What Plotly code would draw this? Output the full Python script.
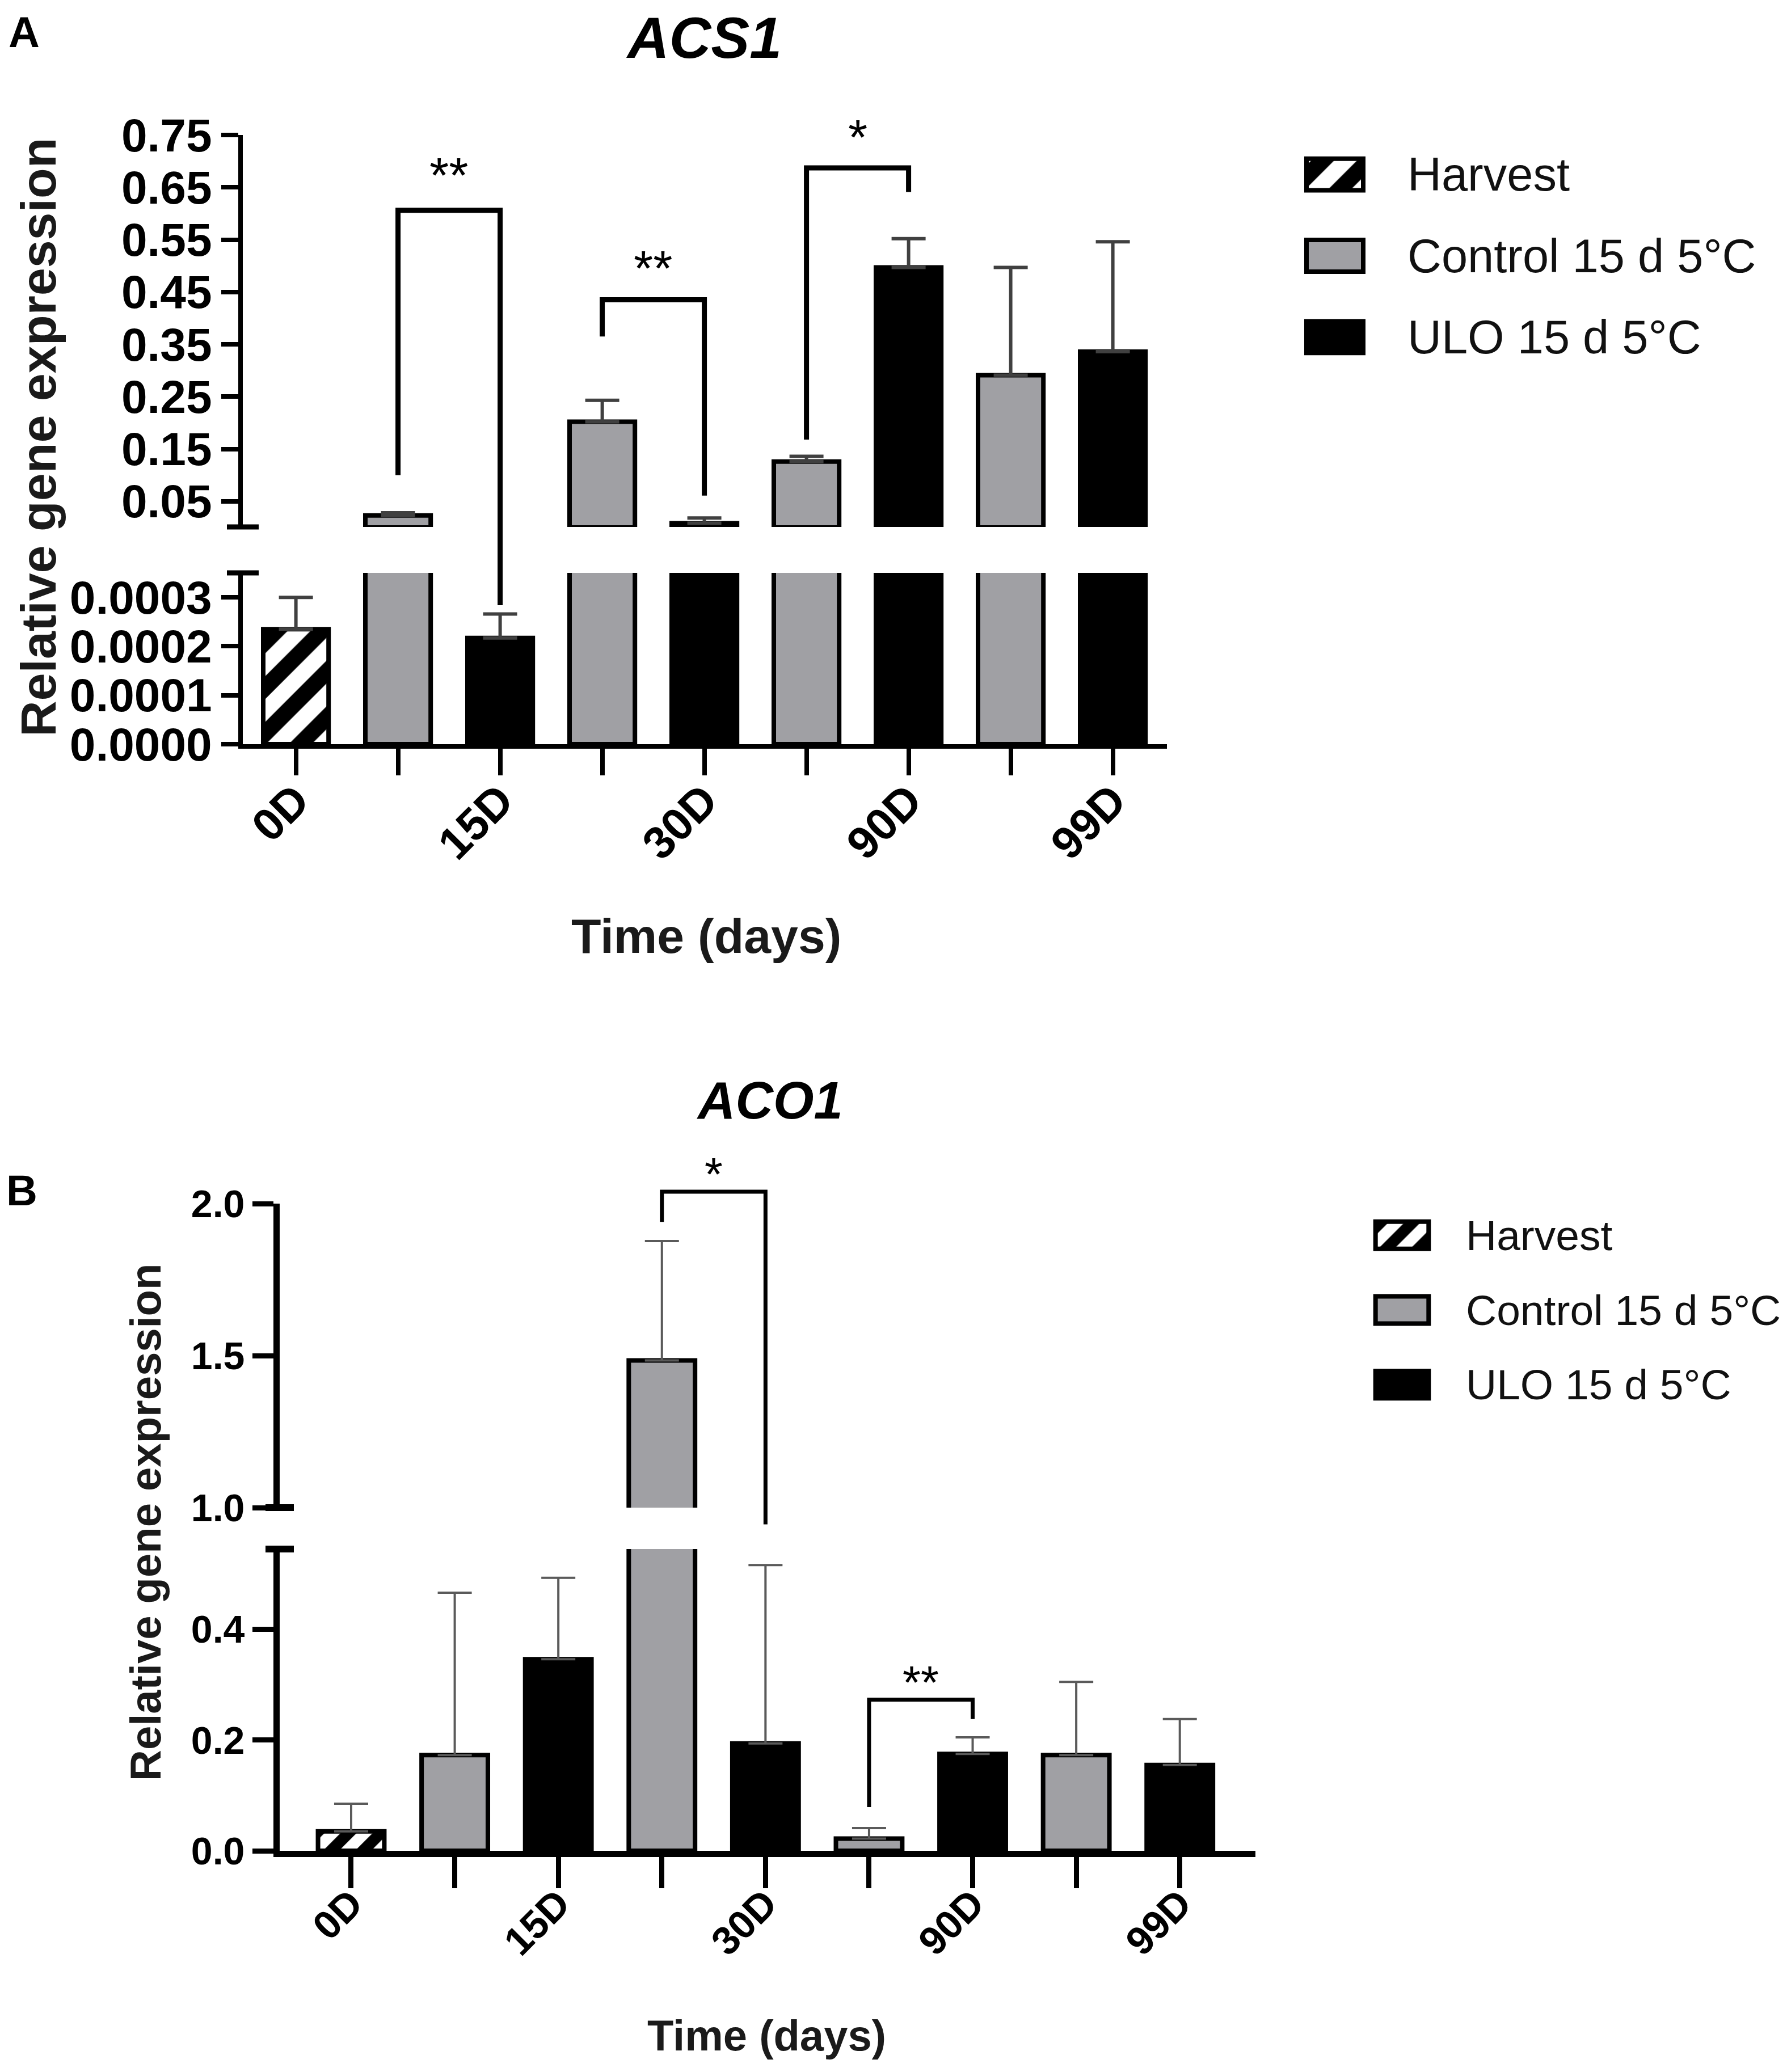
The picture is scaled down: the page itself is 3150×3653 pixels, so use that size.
import plotly.graph_objects as go

W, H = 3150, 3653
FONT = 'Liberation Sans, Arial, Helvetica, sans-serif'
GREY = '#a0a0a4'

# ---- data ----
day_labels = ['0D', '15D', '30D', '90D', '99D']
series_names = ['Harvest', 'Control 15 d 5°C', 'ULO 15 d 5°C']

# ACS1 (panel A)
acs1_harvest = [0.000235]
acs1_harvest_sd = [0.000065]
acs1_control = [0.023, 0.202, 0.126, 0.291]
acs1_control_sd = [0.005, 0.041, 0.010, 0.206]
acs1_ulo = [0.000217, 0.008, 0.497, 0.336]
acs1_ulo_sd = [0.000049, 0.010, 0.055, 0.210]
acs1_hi_ticks = [0.05, 0.15, 0.25, 0.35, 0.45, 0.55, 0.65, 0.75]
acs1_lo_ticks = [0.0, 0.0001, 0.0002, 0.0003]

# ACO1 (panel B)
aco1_harvest = [0.035]
aco1_harvest_sd = [0.050]
aco1_control = [0.173, 1.484, 0.022, 0.173]
aco1_control_sd = [0.293, 0.393, 0.019, 0.132]
aco1_ulo = [0.346, 0.194, 0.175, 0.155]
aco1_ulo_sd = [0.147, 0.322, 0.030, 0.083]
aco1_hi_ticks = [1.0, 1.5, 2.0]
aco1_lo_ticks = [0.0, 0.2, 0.4]

# significance brackets: (left bar, right bar), top, left end, right end, label, label height
acs1_sig = [
    ((1, 2), ('hi', 0.606), ('hi', 0.10), ('lo', 0.000284), '**', ('hi', 0.679)),
    ((3, 4), ('hi', 0.435), ('hi', 0.365), ('hi', 0.061), '**', ('hi', 0.502)),
    ((5, 6), ('hi', 0.687), ('hi', 0.168), ('hi', 0.641), '*', ('hi', 0.752)),
]
aco1_sig = [
    ((3, 4), ('hi', 2.039), ('hi', 1.94), ('hi', 0.945), '*', ('hi', 2.108)),
    ((5, 6), ('lo', 0.273), ('lo', 0.079), ('lo', 0.238), '**', ('lo', 0.31)),
]


def px_x(px):
    return px / W


def px_y(px):
    return 1 - px / H


panels = [
    dict(name='A', title='ACS1', harvest=acs1_harvest, harvest_sd=acs1_harvest_sd,
         control=acs1_control, control_sd=acs1_control_sd,
         ulo=acs1_ulo, ulo_sd=acs1_ulo_sd,
         hi_ticks=acs1_hi_ticks, lo_ticks=acs1_lo_ticks, hi_fmt='{:.2f}', lo_fmt='{:.4f}',
         sig=acs1_sig,
         ax=('x', 'y', 'x2', 'y2', 'x5', 'y5'),
         xdom=(420, 2049), xrange=(-0.52, 8.53),
         lo_px=(1002, 1304), lo_range=(0.0, 0.00035),
         hi_px=(230, 921), hi_range=(0.001, 0.75),
         tick_size=82, xtick_size=80, ytitle_size=88, xtitle_size=86,
         lw=8, tw=8, bar_lw=8, br_lw=9, err_t=6, err_w=30, err_c='#404040',
         yticklen=30, xticklen=47, hatch=57, star_size=88,
         brk_w=28, brk_t=9, lab_standoff=-35, lab_shift=0,
         title_xy=(1232, 0), title_size=102, title_anchor='top',
         label_xy=(34, 48), ytitle_xy=(60, 763), xtitle_xy=(1237, 1642),
         leg_x=(2290, 2400), leg_y=(228, 658), leg_text_x=2471, leg_size=83, leg_h=0.39),
    dict(name='B', title='ACO1', harvest=aco1_harvest, harvest_sd=aco1_harvest_sd,
         control=aco1_control, control_sd=aco1_control_sd,
         ulo=aco1_ulo, ulo_sd=aco1_ulo_sd,
         hi_ticks=aco1_hi_ticks, lo_ticks=aco1_lo_ticks, hi_fmt='{:.1f}', lo_fmt='{:.1f}',
         sig=aco1_sig,
         ax=('x3', 'y3', 'x4', 'y4', 'x6', 'y6'),
         xdom=(485, 2205), xrange=(-0.69, 8.73),
         lo_px=(2723, 3255), lo_range=(0.0, 0.545),
         hi_px=(2114, 2650), hi_range=(1.0, 2.0),
         tick_size=68, xtick_size=70, ytitle_size=76, xtitle_size=76,
         lw=11, tw=9, bar_lw=8, br_lw=7, err_t=4, err_w=30, err_c='#5a5a5a',
         yticklen=37, xticklen=55, hatch=40, star_size=82,
         brk_w=25, brk_t=12, lab_standoff=-42, lab_shift=0,
         title_xy=(1349, 1932), title_size=92, title_anchor='middle',
         label_xy=(30, 2090), ytitle_xy=(248, 2676), xtitle_xy=(1343, 3580),
         leg_x=(2412, 2515), leg_y=(2104, 2499), leg_text_x=2574, leg_size=75, leg_h=0.365),
]

fig = go.Figure()
layout = dict(width=W, height=H,
              margin=dict(l=0, r=0, t=0, b=0, pad=0, autoexpand=False),
              paper_bgcolor='white', plot_bgcolor='white', barmode='overlay',
              showlegend=False, shapes=[], annotations=[])


def axis_key(a):
    return a.replace('x', 'xaxis').replace('y', 'yaxis')


def seg_y(p, seg, v):
    top, bot = p['hi_px'] if seg == 'hi' else p['lo_px']
    lo, hi = p['hi_range'] if seg == 'hi' else p['lo_range']
    return px_y(bot - (v - lo) / (hi - lo) * (bot - top))


for p in panels:
    xl, yl, xh, yh, xg, yg = p['ax']
    n_pairs = len(p['control'])
    harvest_x = [0]
    control_x = [2 * i + 1 for i in range(n_pairs)]
    ulo_x = [2 * i + 2 for i in range(n_pairs)]
    cut = p['lo_range'][1]

    styles = [
        dict(color='white', line=dict(color='black', width=p['bar_lw']),
             pattern=dict(shape='/', fgcolor='black', bgcolor='white', fgopacity=1,
                          size=p['hatch'], solidity=0.5)),
        dict(color=GREY, line=dict(color='black', width=p['bar_lw'])),
        dict(color='black', line=dict(color='black', width=p['bar_lw'])),
    ]
    groups = [(harvest_x, p['harvest'], p['harvest_sd']),
              (control_x, p['control'], p['control_sd']),
              (ulo_x, p['ulo'], p['ulo_sd'])]

    for seg, xa, ya in [('lo', xl, yl), ('hi', xh, yh)]:
        for (gx, gv, gsd), st in zip(groups, styles):
            if seg == 'hi':
                vals = [v if v > cut else None for v in gv]
            else:
                vals = list(gv)
            fig.add_trace(go.Bar(
                x=gx, y=vals, width=0.64, marker=st, xaxis=xa, yaxis=ya,
                error_y=dict(type='data', symmetric=False, array=gsd,
                             arrayminus=[0] * len(gsd), color=p['err_c'],
                             thickness=p['err_t'], width=p['err_w']),
                hoverinfo='skip'))

    tickvals = list(range(2 * n_pairs + 1))
    ticktext = [''] * len(tickvals)
    for i, lab in enumerate(day_labels):
        ticktext[2 * i] = lab

    common_y = dict(showgrid=False, zeroline=False, showline=True, linecolor='black',
                    linewidth=p['lw'], ticks='outside', ticklen=p['yticklen'],
                    tickwidth=p['tw'], tickcolor='black', fixedrange=True, automargin=False,
                    tickfont=dict(family=FONT, size=p['tick_size'], color='black',
                                  weight='bold'))

    xdom = [px_x(p['xdom'][0]), px_x(p['xdom'][1])]
    layout[axis_key(xl)] = dict(
        domain=xdom, range=list(p['xrange']),
        anchor=yl, tickmode='array', tickvals=tickvals, ticktext=ticktext,
        tickangle=-45, showgrid=False, zeroline=False, showline=True,
        linecolor='black', linewidth=p['lw'], ticks='outside', ticklen=p['xticklen'],
        tickwidth=p['tw'], tickcolor='black', fixedrange=True, automargin=False,
        ticklabelstandoff=p['lab_standoff'], ticklabelshift=p['lab_shift'],
        tickfont=dict(family=FONT, size=p['xtick_size'], color='black', weight='bold'))
    layout[axis_key(xh)] = dict(matches=xl, anchor=yh, visible=False, domain=xdom,
                                range=list(p['xrange']), automargin=False)

    layout[axis_key(yl)] = dict(
        common_y, anchor=xl, domain=[px_y(p['lo_px'][1]), px_y(p['lo_px'][0])],
        range=list(p['lo_range']), tickmode='array', tickvals=p['lo_ticks'],
        ticktext=[p['lo_fmt'].format(v) for v in p['lo_ticks']])
    layout[axis_key(yh)] = dict(
        common_y, anchor=xh, domain=[px_y(p['hi_px'][1]), px_y(p['hi_px'][0])],
        range=list(p['hi_range']), tickmode='array', tickvals=p['hi_ticks'],
        ticktext=[p['hi_fmt'].format(v) for v in p['hi_ticks']])

    # axis break marks crossing the y axis line
    ax_px = p['xdom'][0]
    for edge in (p['hi_px'][1], p['lo_px'][0]):
        layout['shapes'].append(dict(
            type='line', xref='paper', yref='paper',
            x0=px_x(ax_px - p['brk_w']), x1=px_x(ax_px + p['brk_w']),
            y0=px_y(edge), y1=px_y(edge), line=dict(color='black', width=p['brk_t'])))

    # significance brackets
    for (i0, i1), top, left, right, label, lab_y in p['sig']:
        yt = seg_y(p, *top)
        y0 = seg_y(p, *left)
        y1 = seg_y(p, *right)
        layout['shapes'].append(dict(
            type='path', xref=xl, yref='paper', layer='above',
            path=f'M {i0},{y0} L {i0},{yt} L {i1},{yt} L {i1},{y1}',
            line=dict(color='black', width=p['br_lw'])))
        layout['annotations'].append(dict(
            x=(i0 + i1) / 2, y=seg_y(p, *lab_y), xref=xl, yref='paper',
            text=label, showarrow=False, yanchor='middle', yshift=-p['star_size'] * 0.06,
            font=dict(family=FONT, size=p['star_size'], color='black')))

    # legend swatches drawn as bars on a small axis
    for i, st in enumerate(styles):
        fig.add_trace(go.Bar(
            x=[1], y=[i], base=0, orientation='h', width=p['leg_h'], marker=st,
            xaxis=xg, yaxis=yg, hoverinfo='skip'))
        layout['annotations'].append(dict(
            x=px_x(p['leg_text_x']), y=i, xref='paper', yref=yg, text=series_names[i],
            showarrow=False, xanchor='left', yanchor='middle',
            font=dict(family=FONT, size=p['leg_size'], color='#111111')))
    layout[axis_key(xg)] = dict(domain=[px_x(p['leg_x'][0]), px_x(p['leg_x'][1])],
                                range=[-0.05, 1.05], anchor=yg, visible=False,
                                fixedrange=True, automargin=False)
    layout[axis_key(yg)] = dict(domain=[px_y(p['leg_y'][1]), px_y(p['leg_y'][0])],
                                range=[2.5, -0.5], anchor=xg, visible=False,
                                fixedrange=True, automargin=False)

    # titles and labels
    tx, ty = p['title_xy']
    layout['annotations'].append(dict(
        x=px_x(tx), y=px_y(ty), xref='paper', yref='paper', showarrow=False,
        text=f"<b><i>{p['title']}</i></b>", xanchor='center', yanchor=p['title_anchor'],
        font=dict(family=FONT, size=p['title_size'], color='black')))
    lx, ly = p['label_xy']
    layout['annotations'].append(dict(
        x=px_x(lx), y=px_y(ly), xref='paper', yref='paper', showarrow=False,
        text=f"<b>{p['name']}</b>", xanchor='center', yanchor='middle',
        font=dict(family=FONT, size=76, color='black')))
    yx, yy = p['ytitle_xy']
    layout['annotations'].append(dict(
        x=px_x(yx), y=px_y(yy), xref='paper', yref='paper', showarrow=False,
        text='<b>Relative gene expression</b>', textangle=-90,
        xanchor='center', yanchor='middle',
        font=dict(family=FONT, size=p['ytitle_size'], color='#1a1a1a')))
    xx, xy = p['xtitle_xy']
    layout['annotations'].append(dict(
        x=px_x(xx), y=px_y(xy), xref='paper', yref='paper', showarrow=False,
        text='<b>Time (days)</b>', xanchor='center', yanchor='middle',
        font=dict(family=FONT, size=p['xtitle_size'], color='#1a1a1a')))

fig.update_layout(**layout)
fig.write_html('out.html')
